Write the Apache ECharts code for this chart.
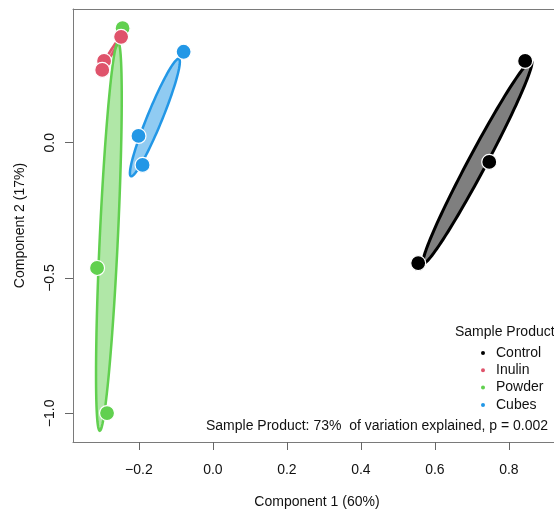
<!DOCTYPE html>
<html>
<head>
<meta charset="utf-8">
<script src="https://cdn.jsdelivr.net/npm/echarts@6/dist/echarts.min.js"></script>
<style>
  html, body { margin: 0; padding: 0; background: #fff; }
  #main { width: 554px; height: 513px; }
</style>
</head>
<body>
<div id="main"></div>
<script>
// 数据
var groups = ["Control", "Inulin", "Powder", "Cubes"];
var controlPts = [[0.555, -0.445], [0.747, -0.071], [0.844, 0.302]];
var inulinPts = [[-0.248, 0.391], [-0.294, 0.302], [-0.299, 0.269]];
var powderPts = [[-0.244, 0.423], [-0.313, -0.463], [-0.286, -0.999]];
var cubesPts = [[-0.079, 0.336], [-0.201, 0.025], [-0.19, -0.082]];
var xTicks = [-0.2, 0, 0.2, 0.4, 0.6, 0.8];
var yTicks = [-1, -0.5, 0];

var colors = ["#000000", "#DF536B", "#61D04F", "#2297E6"];
var fills = ["rgba(0,0,0,0.5)", "rgba(223,83,107,0.5)", "rgba(97,208,79,0.5)", "rgba(34,151,230,0.5)"];
var font = "'Liberation Sans', Arial, sans-serif";
var frame = "#7a7a7a";

// 标准差椭圆 (kind = "sd"): 均值 + 协方差的 Cholesky 分解
function sdEllipse(pts, n) {
  var m = pts.length, mx = 0, my = 0;
  pts.forEach(function (p) { mx += p[0]; my += p[1]; });
  mx /= m; my /= m;
  var sxx = 0, syy = 0, sxy = 0;
  pts.forEach(function (p) {
    var dx = p[0] - mx, dy = p[1] - my;
    sxx += dx * dx; syy += dy * dy; sxy += dx * dy;
  });
  sxx /= m - 1; syy /= m - 1; sxy /= m - 1;
  var a = Math.sqrt(sxx), b = sxy / a, c = Math.sqrt(Math.max(syy - b * b, 0));
  var out = [];
  for (var i = 0; i < n; i++) {
    var t = 2 * Math.PI * i / n, u = Math.cos(t), v = Math.sin(t);
    out.push([mx + a * u, my + (b * u + c * v)]);
  }
  return out;
}

var allPts = [controlPts, inulinPts, powderPts, cubesPts];
var ellipses = allPts.map(function (p) { return sdEllipse(p, 120); });

function fmt(v) {
  return (v < 0 ? "\u2212" : "") + Math.abs(v).toFixed(1);
}

function scatter(i, z) {
  return {
    name: groups[i],
    type: "scatter",
    data: allPts[i],
    symbolSize: 15,
    z: z,
    itemStyle: { color: colors[i], borderColor: "#fff", borderWidth: 1.2, opacity: 1 },
    emphasis: { disabled: true }
  };
}

var xMin = -0.378, xMax = 0.922;

var myChart = echarts.init(document.getElementById("main"));
var option = {
  animation: false,
  grid: { left: 73, top: 9, right: 0, height: 433, outerBoundsMode: "none" },
  legend: {
    data: groups,
    orient: "vertical",
    left: 474, top: 341,
    icon: "circle",
    itemWidth: 6, itemHeight: 6, itemGap: 3.3,
    selectedMode: false,
    textStyle: { fontFamily: font, fontSize: 14, color: "#111", lineHeight: 14, padding: [0, 0, 0, 5] }
  },
  xAxis: [
    {
      type: "value",
      min: xMin, max: xMax,
      name: "Component 1 (60%)",
      nameLocation: "middle",
      nameGap: 53,
      nameTextStyle: { fontFamily: font, fontSize: 14, color: "#111", padding: [0, 0, 0, 7] },
      splitLine: { show: false },
      axisLine: { show: true, onZero: false, lineStyle: { color: frame } },
      axisTick: { show: true, length: 8, customValues: xTicks, lineStyle: { color: "#666" } },
      axisLabel: { customValues: xTicks, margin: 21, formatter: fmt, fontFamily: font, fontSize: 14, color: "#111" }
    },
    {
      // 上边框
      type: "value",
      position: "top",
      min: xMin, max: xMax,
      splitLine: { show: false },
      axisLine: { show: true, onZero: false, lineStyle: { color: frame } },
      axisTick: { show: false },
      axisLabel: { show: false }
    }
  ],
  yAxis: {
    type: "value",
    min: -1.106, max: 0.494,
    name: "Component 2 (17%)",
    nameLocation: "middle",
    nameGap: 46,
    nameRotate: 90,
    nameTextStyle: { fontFamily: font, fontSize: 14, color: "#111" },
    splitLine: { show: false },
    axisLine: { show: true, onZero: false, lineStyle: { color: frame } },
    axisTick: { show: true, length: 8, customValues: yTicks, lineStyle: { color: "#666" } },
    axisLabel: { customValues: yTicks, rotate: 90, margin: 15.5, formatter: fmt, fontFamily: font, fontSize: 14, color: "#111" }
  },
  graphic: [
    {
      type: "text", left: 455, top: 325.5,
      style: { text: "Sample Product", font: "14px " + font, fill: "#111" }
    },
    {
      type: "text", left: 206, top: 419,
      style: { text: "Sample Product: 73%  of variation explained, p = 0.002", font: "14px " + font, fill: "#111" }
    }
  ],
  series: [
    {
      name: "ellipses",
      type: "custom",
      z: 1,
      silent: true,
      data: groups.map(function (g, i) { return [0, 0, i]; }),
      renderItem: function (params, api) {
        var i = api.value(2);
        var pts = ellipses[i].map(function (p) { return api.coord(p); });
        return {
          type: "polygon",
          shape: { points: pts },
          style: { fill: fills[i], stroke: colors[i], lineWidth: i === 0 ? 3 : 2.5 }
        };
      }
    },
    scatter(0, 2),
    scatter(2, 3),
    scatter(3, 4),
    scatter(1, 5)
  ]
};
myChart.setOption(option, true);
</script>
</body>
</html>
